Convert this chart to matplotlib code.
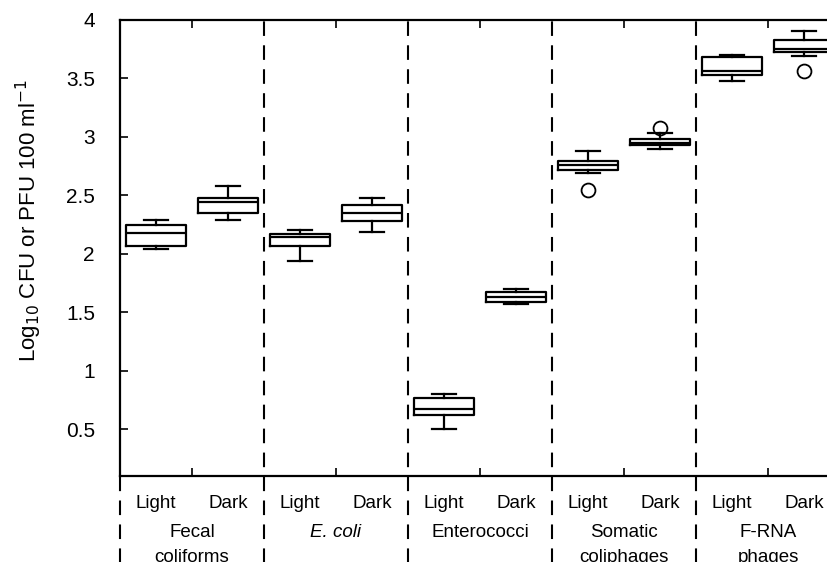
import matplotlib
matplotlib.use("Agg")
import matplotlib.pyplot as plt
import matplotlib.transforms as mtransforms

plt.rcParams['font.family'] = ['Liberation Sans', 'DejaVu Sans']

groups = ["Fecal\ncoliforms", "E. coli", "Enterococci", "Somatic\ncoliphages", "F-RNA\nphages"]
conditions = ["Light", "Dark"]

# order: Fecal L, Fecal D, E.coli L, E.coli D, Entero L, Entero D, Somatic L, Somatic D, FRNA L, FRNA D
whislo = [2.04, 2.29, 1.94, 2.19, 0.50, 1.57, 2.69, 2.90, 3.48, 3.69]
q1     = [2.07, 2.35, 2.07, 2.28, 0.62, 1.59, 2.72, 2.93, 3.53, 3.73]
med    = [2.18, 2.44, 2.14, 2.35, 0.67, 1.63, 2.76, 2.95, 3.56, 3.75]
q3     = [2.25, 2.48, 2.17, 2.42, 0.77, 1.67, 2.79, 2.98, 3.68, 3.83]
whishi = [2.29, 2.58, 2.20, 2.48, 0.80, 1.70, 2.88, 3.03, 3.70, 3.91]
fliers = [[], [], [], [], [], [], [2.545], [3.08], [], [3.56]]

positions = [g + off for g in range(5) for off in (0.25, 0.75)]

W, H = 828, 562
fig = plt.figure(figsize=(W / 100, H / 100), dpi=100)
left, right, top, bottom = 120, 840, 20, 476
ax = fig.add_axes([left / W, (H - bottom) / H, (right - left) / W, (bottom - top) / H])

stats = []
for i in range(10):
    stats.append(dict(whislo=whislo[i], q1=q1[i], med=med[i], q3=q3[i],
                      whishi=whishi[i], fliers=fliers[i]))

lw = 1.6
ax.bxp(stats, positions=positions, widths=0.41, capwidths=0.17, showfliers=True,
       boxprops=dict(color='black', linewidth=lw),
       whiskerprops=dict(color='black', linewidth=lw),
       capprops=dict(color='black', linewidth=lw),
       medianprops=dict(color='black', linewidth=lw),
       flierprops=dict(marker='o', markerfacecolor='none', markeredgecolor='black',
                       markersize=10, markeredgewidth=1.3))

ax.set_xlim(0, 5)
ax.set_ylim(0.1, 4)
ax.set_yticks([0.5, 1, 1.5, 2, 2.5, 3, 3.5, 4])
ax.set_yticklabels(["0.5", "1", "1.5", "2", "2.5", "3", "3.5", "4"], fontsize=15)
ax.set_xticks([0.5, 1.5, 2.5, 3.5, 4.5])
ax.set_xticklabels([])
ax.tick_params(axis='y', direction='in', length=6, width=1.2, pad=18, right=False)
ax.tick_params(axis='x', direction='in', length=6, width=1.2, top=True, bottom=True)
for s in ax.spines.values():
    s.set_linewidth(1.6)

# dashed separators, extending below the axes
trans = mtransforms.blended_transform_factory(ax.transData, ax.transAxes)
for xv in range(0, 6):
    ymin_ax = -0.3
    ymax_ax = 1.0 if 0 < xv < 5 else 0.0
    ax.plot([xv, xv], [ymin_ax, ymax_ax], transform=trans, color='black',
            linewidth=1.5, linestyle=(0, (7, 4.5)), clip_on=False)

# labels under axis
line_step = 25 / (bottom - top)
for g in range(5):
    for k, off in enumerate((0.25, 0.75)):
        ax.text(g + off, -0.070, conditions[k], transform=trans, ha='center', va='baseline',
                fontsize=13.5)
    style = 'italic' if groups[g] == "E. coli" else 'normal'
    for j, line in enumerate(groups[g].split("\n")):
        ax.text(g + 0.5, -0.133 - j * line_step, line, transform=trans, ha='center',
                va='baseline', fontsize=13.5, style=style, clip_on=False)

fig.text(29 / W, 1 - 221 / H, "Log$_{10}$ CFU or PFU 100 ml$^{-1}$", fontsize=16,
         rotation=90, ha='center', va='center')

fig.savefig("out.png", dpi=100)
